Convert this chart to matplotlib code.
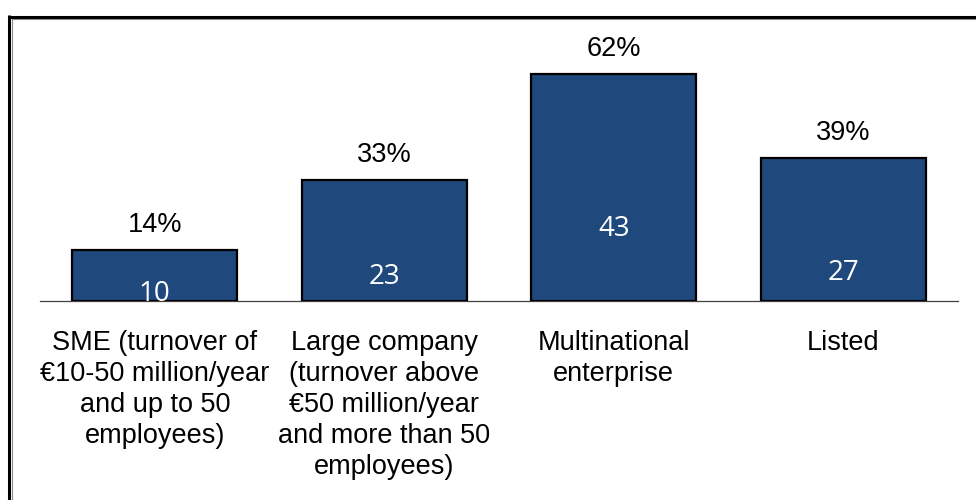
import matplotlib.pyplot as plt
from matplotlib.lines import Line2D

# company type vs share of respondents (%) and number of respondents
categories = ['SME (turnover of\n€10-50 million/year\nand up to 50\nemployees)',
              'Large company\n(turnover above\n€50 million/year\nand more than 50\nemployees)',
              'Multinational\nenterprise',
              'Listed']
shares = [14, 33, 62, 39]
counts = [10, 23, 43, 27]

# where the white count sits inside each bar (in % units)
count_y = [0, 4.6, 17.8, 5.7]

BAR_COLOR = '#1F497D'
W, H = 976, 500

fig = plt.figure(figsize=(W / 100, H / 100), dpi=100)
fig.patch.set_facecolor('white')

# axes: baseline at y=301px, 3.66 px per percent point
top_val = 70
ax = fig.add_axes([40 / W, (H - 301) / H, 918 / W, top_val * 3.66 / H])
x = range(len(shares))
ax.bar(x, shares, width=0.72, color=BAR_COLOR, edgecolor='black',
       linewidth=1.6, zorder=3)
ax.axhline(0, color='#404040', linewidth=0.9, zorder=2, clip_on=False)
ax.set_xlim(-0.5, 3.5)
ax.set_ylim(0, top_val)

for i, (s, c) in enumerate(zip(shares, counts)):
    ax.annotate(f'{s}%', (i, s), xytext=(0, 13), textcoords='offset points',
                ha='center', va='baseline', fontsize=19.5,
                family='Liberation Sans', color='black')
    ax.text(i, count_y[i], str(c), ha='center', va='baseline', fontsize=20,
            family='Open Sans', color='white', zorder=4)

ax.set_xticks(list(x))
ax.set_xticklabels(categories, fontsize=19.5, family='Liberation Sans',
                   linespacing=1.25)
ax.tick_params(axis='x', length=0, pad=21)
ax.set_yticks([])
for side in ax.spines.values():
    side.set_visible(False)
ax.patch.set_visible(False)

# double frame on the top and left edges
def px_line(xs, ys, **kw):
    fig.add_artist(Line2D([v / W for v in xs], [1 - v / H for v in ys],
                          transform=fig.transFigure, **kw))

px_line([9, 9], [15, H], color='black', linewidth=2.2, solid_capstyle='butt')
px_line([7.5, W], [16.5, 16.5], color='black', linewidth=2.2, solid_capstyle='butt')
px_line([12, 12], [19, H], color='#8a8a8a', linewidth=0.8)
px_line([12, W], [19, 19], color='#8a8a8a', linewidth=0.8)

fig.savefig('out.png', dpi=100)
